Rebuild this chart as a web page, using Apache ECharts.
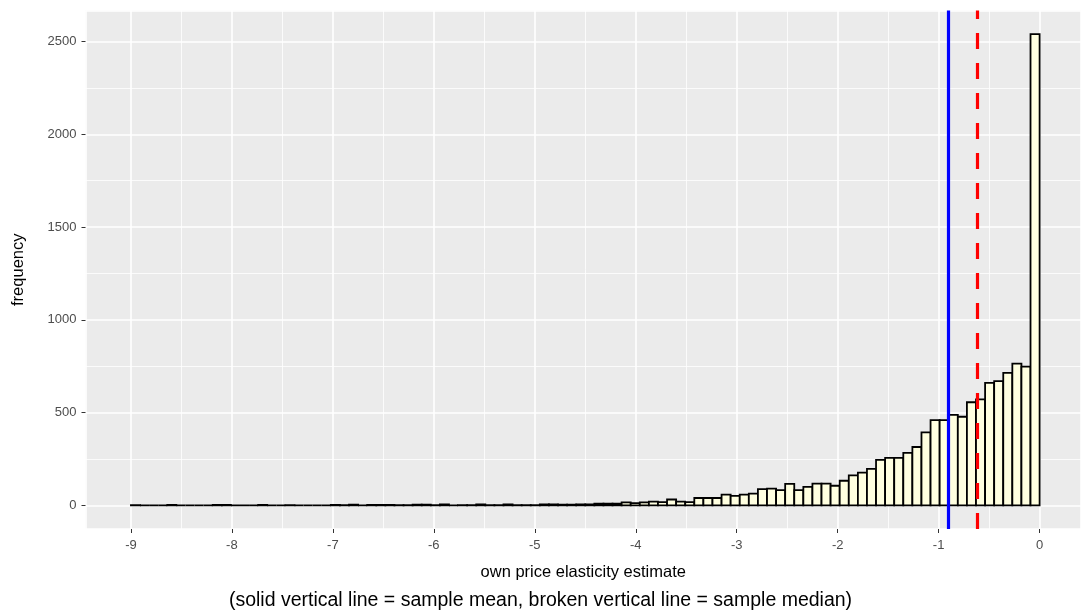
<!DOCTYPE html>
<html>
<head>
<meta charset="utf-8">
<style>
  html, body { margin: 0; padding: 0; background: #fff; }
  #chart { width: 1081px; height: 614px; }
</style>
<script src="https://cdn.jsdelivr.net/npm/echarts@6/dist/echarts.min.js"></script>
</head>
<body>
<div id="chart"></div>
<script>
// histogram of own price elasticity estimates, 100 bins from -9 to 0
const binStart = -9;
const binWidth = 0.09;
const counts = [
  1, 0, 0, 0, 3, 0, 0, 0, 0, 3,
  3, 0, 0, 0, 3, 0, 0, 1, 0, 0,
  0, 0, 3, 1, 4, 0, 3, 3, 3, 1,
  1, 4, 4, 1, 6, 0, 1, 1, 5, 1,
  1, 6, 1, 1, 2, 5, 5, 4, 4, 6,
  6, 9, 9, 10, 16, 12, 17, 21, 18, 32,
  21, 18, 40, 40, 40, 58, 52, 58, 64, 88,
  91, 82, 116, 83, 100, 117, 117, 106, 133, 162,
  177, 197, 245, 256, 256, 283, 315, 394, 460, 460,
  488, 478, 556, 572, 660, 670, 714, 764, 748, 2540
];
const sampleMean = -0.898;
const sampleMedian = -0.618;

const xTitle = 'own price elasticity estimate';
const yTitle = 'frequency';
const caption = '(solid vertical line = sample mean, broken vertical line = sample median)';

const FONT = '"Liberation Sans", Arial, sans-serif';

const bins = counts.map((c, i) => [
  binStart + binWidth * i,
  binStart + binWidth * (i + 1),
  c
]);

function renderBar(params, api) {
  const top = api.coord([api.value(0), api.value(2)]);
  const bottom = api.coord([api.value(1), 0]);
  return {
    type: 'rect',
    shape: { x: top[0], y: top[1], width: bottom[0] - top[0], height: bottom[1] - top[1] },
    style: { fill: '#FFFFE0', stroke: '#000', lineWidth: 1.8 }
  };
}

const chart = echarts.init(document.getElementById('chart'), null, { renderer: 'canvas' });

chart.setOption({
  animation: false,
  backgroundColor: '#fff',
  textStyle: { fontFamily: FONT },
  title: {
    text: caption,
    left: 'center',
    top: 586,
    textStyle: { fontFamily: FONT, fontSize: 19.5, fontWeight: 'normal', color: '#000' }
  },
  grid: {
    left: 85.5, right: 0, top: 10.5, bottom: 85,
    show: true, backgroundColor: '#EBEBEB', borderWidth: 0
  },
  xAxis: {
    type: 'value',
    min: -9.45,
    max: 0.41,
    splitNumber: 10,
    name: xTitle,
    nameLocation: 'middle',
    nameGap: 35,
    nameTextStyle: { fontFamily: FONT, fontSize: 16.5, color: '#000' },
    axisLine: { show: false, onZero: false },
    axisTick: { show: true, length: 4, lineStyle: { color: '#333', width: 1 } },
    axisLabel: {
      margin: 10, color: '#4D4D4D', fontSize: 13, fontFamily: FONT,
      showMinLabel: false, showMaxLabel: false,
      formatter: v => (Math.abs(v - Math.round(v)) < 1e-9 ? String(Math.round(v)) : '')
    },
    splitLine: { show: true, lineStyle: { color: '#fff', width: 1.6 } },
    minorTick: { show: false, splitNumber: 2 },
    minorSplitLine: { show: true, lineStyle: { color: '#fff', width: 0.8 } }
  },
  yAxis: {
    type: 'value',
    min: -127,
    max: 2667,
    splitNumber: 5,
    name: yTitle,
    nameLocation: 'middle',
    nameGap: 59,
    nameTextStyle: { fontFamily: FONT, fontSize: 16.5, color: '#000' },
    axisLine: { show: false, onZero: false },
    axisTick: { show: true, length: 4, lineStyle: { color: '#333', width: 1 } },
    axisLabel: {
      margin: 9, color: '#4D4D4D', fontSize: 13, fontFamily: FONT,
      showMinLabel: false, showMaxLabel: false,
      formatter: v => (v % 500 === 0 ? String(v) : '')
    },
    splitLine: { show: true, lineStyle: { color: '#fff', width: 1.6 } },
    minorTick: { show: false, splitNumber: 2 },
    minorSplitLine: { show: true, lineStyle: { color: '#fff', width: 0.8 } }
  },
  series: [{
    type: 'custom',
    renderItem: renderBar,
    data: bins,
    encode: { x: [0, 1], y: 2 },
    clip: true,
    silent: true,
    markLine: {
      silent: true,
      symbol: 'none',
      label: { show: false },
      data: [
        { xAxis: sampleMean, lineStyle: { color: '#0000FF', width: 3.2, type: 'solid' } },
        { xAxis: sampleMedian, lineStyle: { color: '#FF0000', width: 3.2, type: [16, 14] } }
      ]
    }
  }]
});
</script>
</body>
</html>
